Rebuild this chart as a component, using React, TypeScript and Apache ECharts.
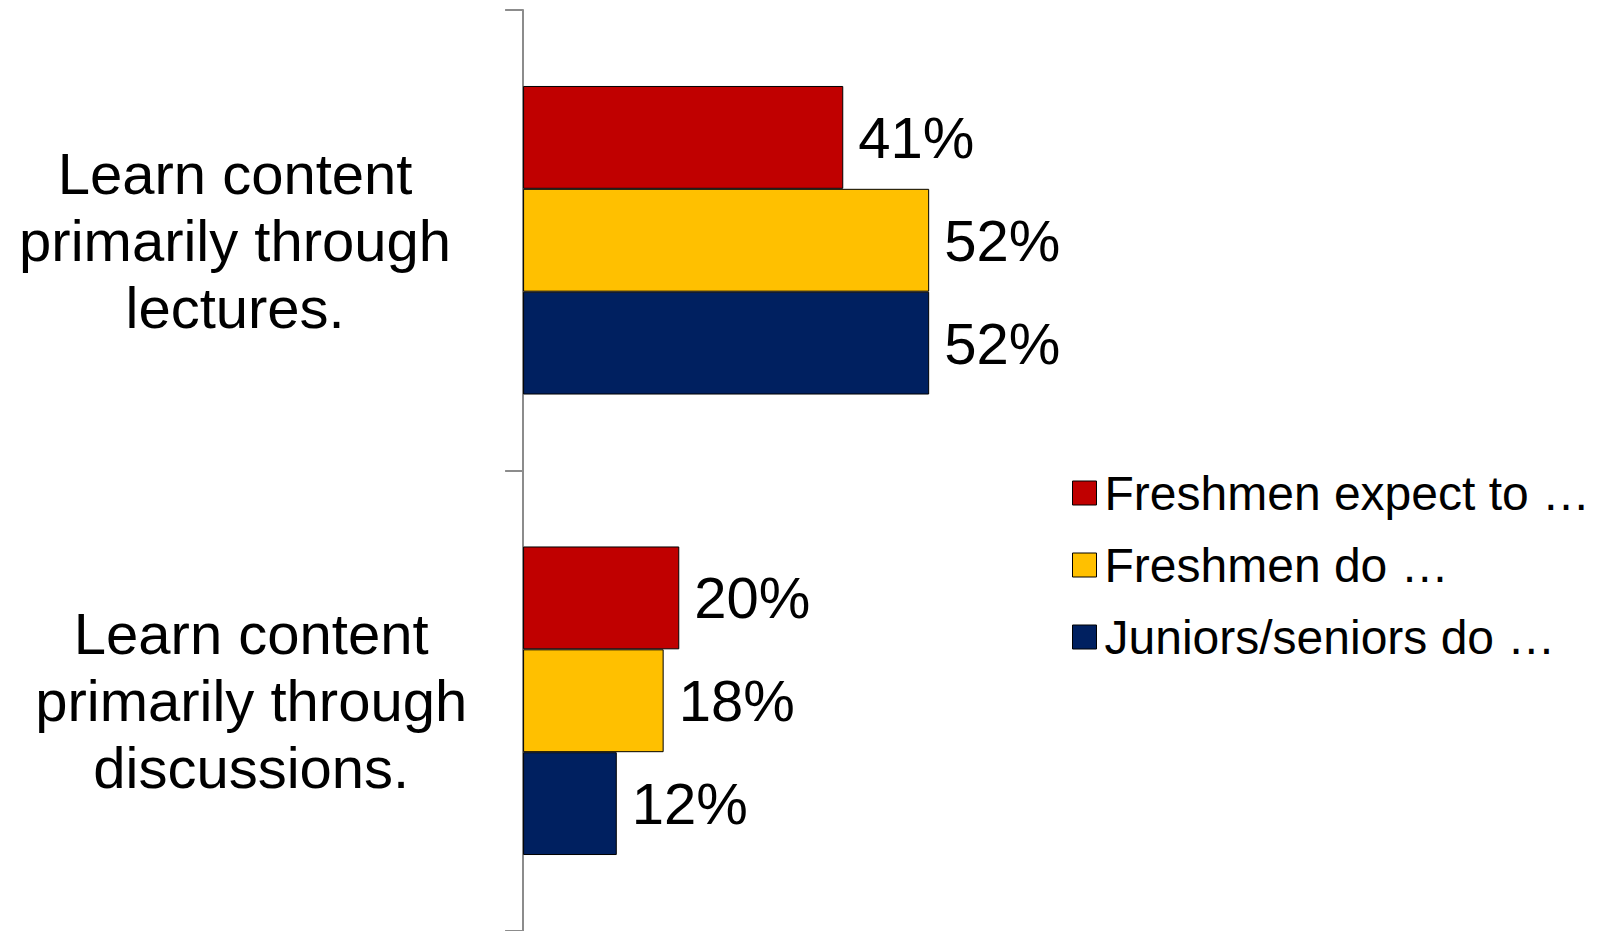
import React, { useEffect, useRef } from "react";
import * as echarts from "echarts";

const categories = [
  "Learn content\nprimarily through\nlectures.",
  "Learn content\nprimarily through\ndiscussions.",
];
const seriesNames = ["Freshmen expect to …", "Freshmen do …", "Juniors/seniors do …"];
const freshmenExpect = [41, 20];
const freshmenDo = [52, 18];
const juniorsSeniorsDo = [52, 12];
const colors = ["#C00000", "#FFC000", "#002060"];

export default function App() {
  const ref = useRef<HTMLDivElement>(null);
  useEffect(() => {
    if (!ref.current) return;
    const chart = echarts.init(ref.current, null, { renderer: "svg" });
    const values = [freshmenExpect, freshmenDo, juniorsSeniorsDo];
    chart.setOption({
      animation: false,
      textStyle: { fontFamily: "Liberation Sans, Arial, sans-serif" },
      grid: { left: 516, top: 10, width: 788, height: 924, containLabel: false },
      legend: {
        orient: "vertical",
        left: 1072,
        top: 469,
        padding: 0,
        itemWidth: 24,
        itemHeight: 24,
        itemGap: 24,
        icon: "rect",
        itemStyle: { borderColor: "#000", borderWidth: 1 },
        textStyle: {
          fontSize: 48,
          color: "#000",
          lineHeight: 48,
          padding: [0, 0, 0, 3],
          fontFamily: "Liberation Sans, Arial, sans-serif",
        },
        data: seriesNames,
      },
      xAxis: { type: "value", min: 0, max: 100, show: false },
      yAxis: {
        type: "category",
        inverse: true,
        data: categories,
        axisLine: { show: true, lineStyle: { color: "#8c8c8c", width: 2 } },
        axisTick: { show: true, length: 18, lineStyle: { color: "#8c8c8c", width: 2 } },
        axisLabel: {
          fontSize: 58,
          lineHeight: 67,
          color: "#000",
          align: "center",
          margin: 288,
          fontFamily: "Liberation Sans, Arial, sans-serif",
          formatter: (v: string, i: number) =>
            i === 1 ? v.split("\n").map((l) => "  " + l).join("\n") : v,
        },
        splitLine: { show: false },
      },
      series: seriesNames.map((name, k) => ({
        name,
        type: "bar",
        data: values[k],
        barGap: "0%",
        barCategoryGap: "33%",
        itemStyle: { color: colors[k], borderColor: "#000", borderWidth: 1 },
        label: {
          show: true,
          position: "right",
          distance: 15,
          formatter: "{c}%",
          fontSize: 58,
          color: "#000",
          fontFamily: "Liberation Sans, Arial, sans-serif",
        },
      })),
    });
    return () => chart.dispose();
  }, []);
  return (
    <div
      ref={ref}
      style={{ position: "fixed", left: 0, top: 0, width: 1597, height: 931, background: "#fff" }}
    />
  );
}
